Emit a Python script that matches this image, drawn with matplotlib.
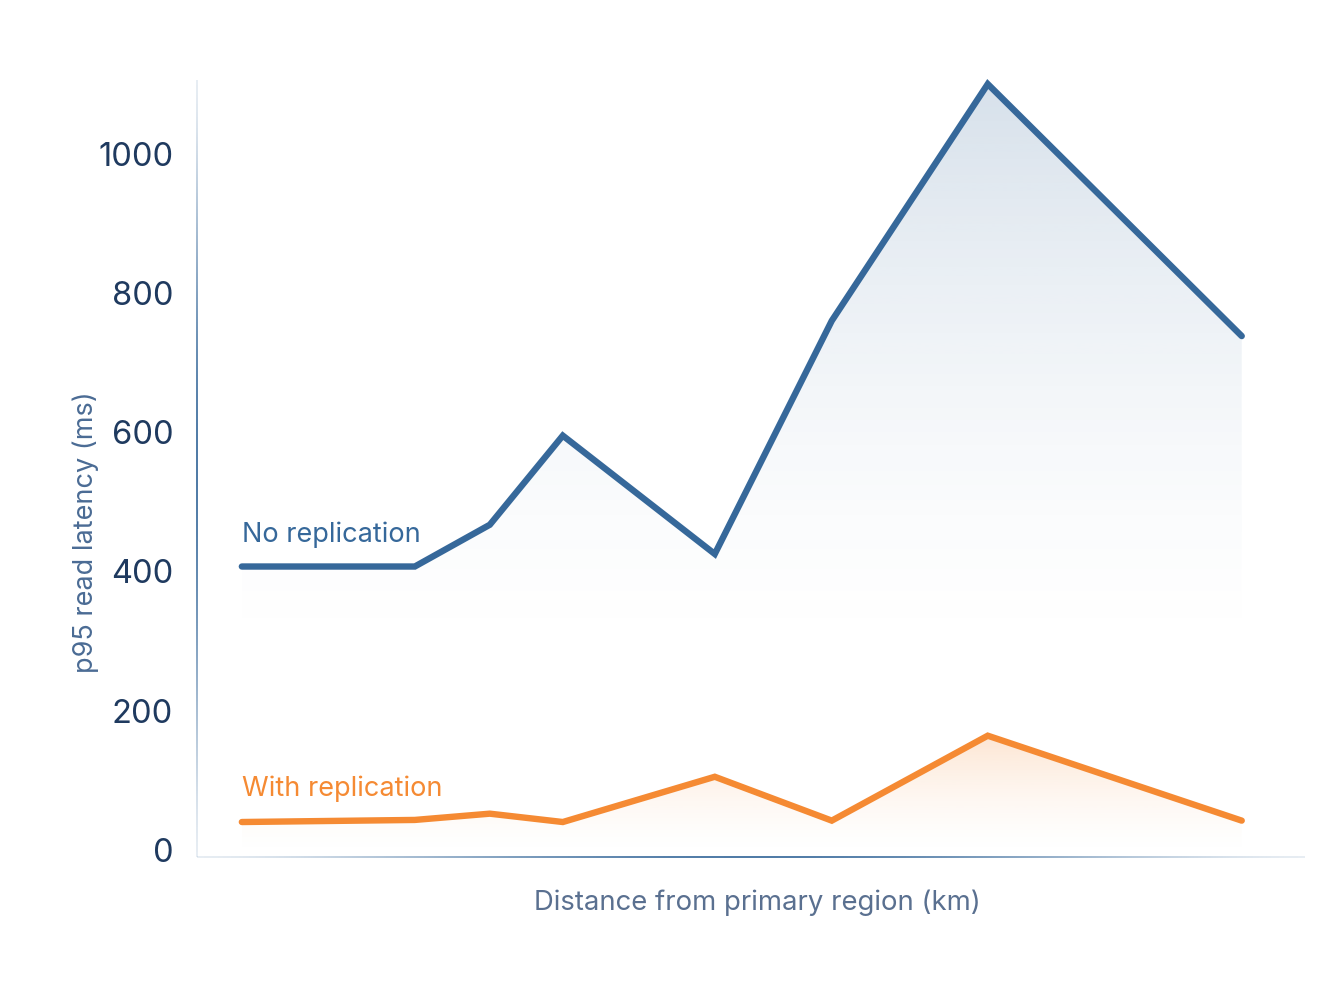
import matplotlib.pyplot as plt
import numpy as np
from matplotlib.colors import to_rgb

plt.rcParams['font.family'] = ['Inter', 'DejaVu Sans']

# data
distance_km = [0, 1730, 2480, 3210, 4730, 5900, 7460, 10000]
no_repl = [407, 407, 467, 595, 425, 760, 1100, 738]
with_repl = [40, 43, 52, 40, 105, 42, 164, 42]
yticks = [0, 200, 400, 600, 800, 1000]

BLUE = '#36689A'
ORANGE = '#F58A33'

fig = plt.figure(figsize=(13.3, 9.86), dpi=100)
ax = fig.add_axes([0.148, 0.131, 0.833, 0.788])
ax.set_xlim(-450, 10630)
ax.set_ylim(-10, 1106)


def gradient_fill(x, y, color, a_top, y_fade):
    # vertical gradient under a line, clipped to the area below it
    poly = ax.fill_between(x, y, -10, color='none', lw=0)
    top = max(y)
    n = 256
    vals = np.linspace(top, y_fade, n)
    alpha = np.clip((vals - y_fade) / (top - y_fade), 0, 1) ** 1.6 * a_top
    img = np.zeros((n, 1, 4))
    img[:, 0, :3] = to_rgb(color)
    img[:, 0, 3] = alpha
    im = ax.imshow(img, extent=[min(x), max(x), y_fade, top], aspect='auto',
                   origin='upper', zorder=1)
    im.set_clip_path(poly.get_paths()[0], transform=ax.transData)


gradient_fill(distance_km, no_repl, BLUE, 0.2, 260)
gradient_fill(distance_km, with_repl, ORANGE, 0.22, -10)

ax.plot(distance_km, no_repl, color=BLUE, lw=4.6, solid_capstyle='round',
        solid_joinstyle='miter', zorder=3, clip_on=False)
ax.plot(distance_km, with_repl, color=ORANGE, lw=4.6, solid_capstyle='round',
        solid_joinstyle='miter', zorder=3, clip_on=False)

ax.text(0, 453, 'No replication', color=BLUE, fontsize=19.5, va='center', ha='left')
ax.text(0, 88, 'With replication', color=ORANGE, fontsize=19.5, va='center', ha='left')

# faded axis lines drawn as thin gradient strips
for s in ax.spines.values():
    s.set_visible(False)
t = np.linspace(0, 1, 300)
a = 0.12 + 0.75 * np.sin(np.pi * t) ** 1.5
strip = np.zeros((300, 1, 4))
strip[:, 0, :3] = to_rgb(BLUE)
strip[:, 0, 3] = a
ax.imshow(strip, extent=[-458, -442, -10, 1106], aspect='auto', origin='lower',
          interpolation='bilinear', clip_on=False, zorder=2)
ax.imshow(strip.transpose(1, 0, 2), extent=[-450, 10630, -11.2, -8.8], aspect='auto',
          origin='lower', interpolation='bilinear', clip_on=False, zorder=2)
ax.set_xlim(-450, 10630)
ax.set_ylim(-10, 1106)

ax.set_yticks(yticks)
ax.set_xticks([])
ax.tick_params(axis='y', length=0, pad=17, labelsize=23.5, labelcolor='#1F3A5F')
ax.set_ylabel('p95 read latency (ms)', fontsize=19.5, color='#4A6B94')
ax.yaxis.set_label_coords(-0.088, 0.418)
ax.set_xlabel('Distance from primary region (km)', fontsize=19.8, color='#5A7090')
ax.xaxis.set_label_coords(0.5055, -0.042)

fig.savefig('out.png', dpi=100, facecolor='white')
